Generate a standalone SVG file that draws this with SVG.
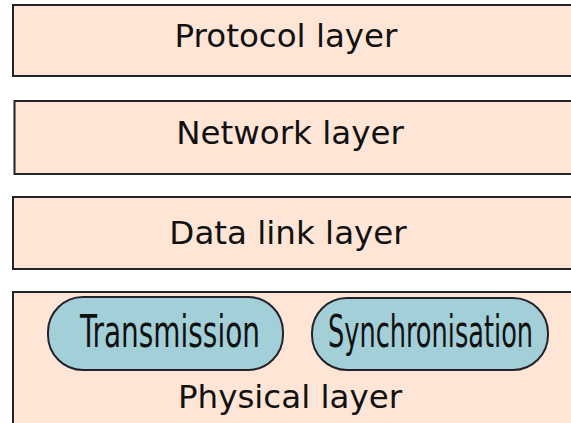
<svg xmlns="http://www.w3.org/2000/svg" width="571" height="423" viewBox="0 0 571 423">
<style>
.layer{fill:#ffe5d6;stroke:#23222b;stroke-width:2}
.pill{fill:#a3d0d8;stroke:#23222b;stroke-width:2}
.lt{font-family:"DejaVu Sans",sans-serif;font-size:32.5px;fill:#111;text-anchor:middle}
.pt{font-family:"DejaVu Sans Condensed","DejaVu Sans",sans-serif;fill:#111;text-anchor:middle;font-size:44px}
</style>
<rect width="571" height="423" fill="#ffffff"/>
<g id="protocol">
<rect class="layer" x="13" y="5" width="580" height="71"/>
<text class="lt" x="286" y="47">Protocol layer</text>
</g>
<g id="network">
<rect class="layer" x="14.5" y="101" width="580" height="73"/>
<text class="lt" x="290" y="144">Network layer</text>
</g>
<g id="datalink">
<rect class="layer" x="13" y="197" width="580" height="72"/>
<text class="lt" x="288" y="244">Data link layer</text>
</g>
<g id="physical">
<rect class="layer" x="13" y="292" width="580" height="160"/>
<text class="lt" x="290" y="408">Physical layer</text>
<g id="transmission">
<rect class="pill" x="48" y="297" width="235" height="73" rx="35" ry="35"/>
<text class="pt" transform="translate(170,347) scale(0.7,1)" x="0" y="0" textLength="257" lengthAdjust="spacingAndGlyphs">Transmission</text>
</g>
<g id="synchronisation">
<rect class="pill" x="312" y="298" width="236" height="72" rx="35" ry="35"/>
<text class="pt" transform="translate(430.5,347) scale(0.7,1)" x="0" y="0" textLength="293" lengthAdjust="spacingAndGlyphs">Synchronisation</text>
</g>
</g>
<g id="connectors"/>
</svg>
